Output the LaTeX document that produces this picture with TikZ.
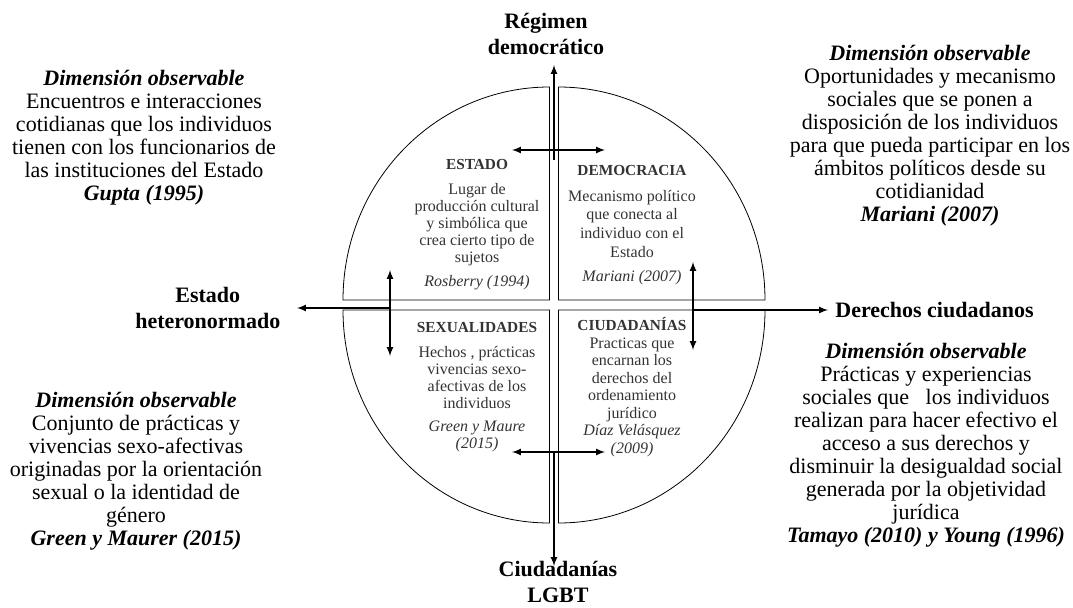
\documentclass[tikz,border=0pt]{standalone}
\usepackage{fontspec}
\setmainfont{Liberation Serif}
\usetikzlibrary{positioning}
\newcommand{\cuadtitulo}{\bfseries\fontsize{11.5}{12.75}\selectfont}

\begin{document}
\begin{tikzpicture}[x=0.75pt,y=-0.75pt]
\tikzstyle{cuadrante}=[draw, line width=0.6pt]
\tikzstyle{flecha}=[line width=1.3pt, -latex]
\tikzstyle{doble}=[line width=1.3pt, latex-latex]
\tikzstyle{eje}=[font=\bfseries\fontsize{16.5}{19.5}\selectfont, align=center]
\tikzstyle{dim}=[font=\fontsize{16.5}{17.25}\selectfont, align=center]
\tikzstyle{cuad}=[font=\fontsize{12}{12.75}\selectfont, align=center, text=black!80]
   \useasboundingbox (0,0) rectangle (1073,607);
   % cuatro cuadrantes
   \draw[cuadrante] (549.5,300) -- (343,300) arc[start angle=180, end angle=270, x radius=206.5, y radius=213] -- cycle;
   \draw[cuadrante] (558.5,300) -- (765,300) arc[start angle=0, end angle=-90, x radius=206.5, y radius=213] -- cycle;
   \draw[cuadrante] (549.5,310) -- (343,310) arc[start angle=180, end angle=90, x radius=206.5, y radius=213] -- cycle;
   \draw[cuadrante] (558.5,310) -- (765,310) arc[start angle=0, end angle=90, x radius=206.5, y radius=213] -- cycle;

   \node[cuad] (estado) at (477,224.5) {{\cuadtitulo ESTADO}\\[6pt] Lugar de\\ producción cultural\\ y simbólica que\\ crea cierto tipo de\\ sujetos\\[5pt] \textit{Rosberry (1994)}};
   \node[cuad, font=\fontsize{12}{14}\selectfont] (democracia) at (632,225) {{\cuadtitulo DEMOCRACIA}\\[5pt] Mecanismo político\\ que conecta al\\ individuo con el\\ Estado\\[4pt] \textit{Mariani (2007)}};
   \node[cuad] (sexualidades) at (477,387) {{\cuadtitulo SEXUALIDADES}\\[6pt] Hechos , prácticas\\ vivencias sexo-\\ afectivas de los\\ individuos\\[5pt] \textit{Green y Maure}\\ \textit{(2015)}};
   \node[cuad, font=\fontsize{12}{13.1}\selectfont] (ciudadanias) at (632,387) {{\cuadtitulo CIUDADANÍAS}\\ Practicas que\\ encarnan los\\ derechos del\\ ordenamiento\\ jurídico\\ \textit{Díaz Velásquez}\\ \textit{(2009)}};

   % flechas
   \coordinate (nA) at (554,160); \coordinate (nB) at (554,65);
   \coordinate (sA) at (554,452); \coordinate (sB) at (554,566);
   \coordinate (wA) at (390,308); \coordinate (wB) at (297,308);
   \coordinate (eA) at (693,310); \coordinate (eB) at (828,310);
   \coordinate (nI) at (512,150); \coordinate (nD) at (605,150);
   \coordinate (sI) at (512,452); \coordinate (sD) at (605,452);
   \coordinate (wN) at (390,270); \coordinate (wS) at (390,356);
   \coordinate (eN) at (693,262); \coordinate (eS) at (693,350);
   \draw[flecha] (nA) -- (nB);
   \draw[flecha] (sA) -- (sB);
   \draw[flecha] (wA) -- (wB);
   \draw[flecha] (eA) -- (eB);
   \draw[doble] (nI) -- (nD);
   \draw[doble] (sI) -- (sD);
   \draw[doble] (wN) -- (wS);
   \draw[doble] (eN) -- (eS);

   \node[eje, above=4pt of nB, xshift=-6pt] (regimen) {Régimen\\ democrático};
   \node[eje, left=9pt of wB] (heteronormado) {Estado\\ heteronormado};
   \node[eje, right=2pt of eB] (derechos) {Derechos ciudadanos};
   \node[eje] (lgbt) at (558,582) {Ciudadanías\\ LGBT};

   % dimensiones observables
   \node[dim] (dimEstado) at (144,137.5) {\textbf{\textit{Dimensión observable}}\\ Encuentros e interacciones\\ cotidianas que los individuos\\ tienen con los funcionarios de\\ las instituciones del Estado\\ \textbf{\textit{Gupta (1995)}}};
   \node[dim] (dimDemocracia) at (930,135.5) {\textbf{\textit{Dimensión observable}}\\ Oportunidades y mecanismo\\ sociales que se ponen a\\ disposición de los individuos\\ para que pueda participar en los\\ ámbitos políticos desde su\\ cotidianidad\\ \textbf{\textit{Mariani (2007)}}};
   \node[dim] (dimSexualidades) at (136,471) {\textbf{\textit{Dimensión observable}}\\ Conjunto de prácticas y\\ vivencias sexo-afectivas\\ originadas por la orientación\\ sexual o la identidad de\\ género\\ \textbf{\textit{Green y Maurer (2015)}}};
   \node[dim] (dimCiudadanias) at (926,445) {\textbf{\textit{Dimensión observable}}\\ Prácticas y experiencias\\ sociales que \ \ los individuos\\ realizan para hacer efectivo el\\ acceso a sus derechos y\\ disminuir la desigualdad social\\ generada por la objetividad\\ jurídica\\ \textbf{\textit{Tamayo (2010) y Young (1996)}}};
\end{tikzpicture}
\end{document}
